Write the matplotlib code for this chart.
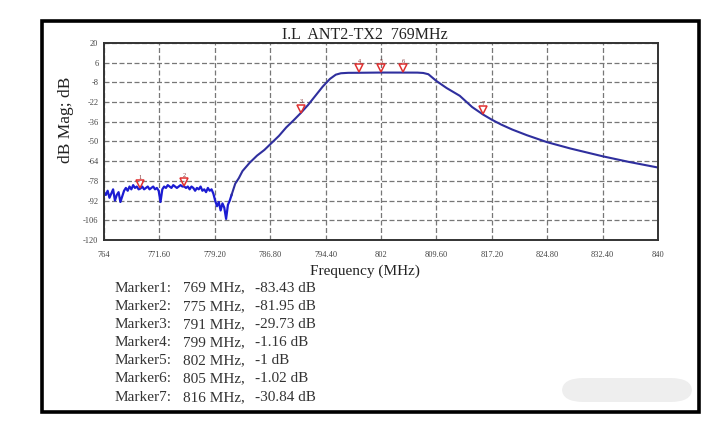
import matplotlib.pyplot as plt
import matplotlib.patches as patches
import matplotlib.transforms as mtransforms
import numpy as np

plt.rcParams['axes.unicode_minus'] = False

# noisy stop-band part
noise_freq = [764.00, 764.25, 764.50, 764.75, 765.00, 765.25, 765.50, 765.75,
              766.00, 766.25, 766.50, 766.75, 767.00, 767.25, 767.50, 767.75,
              768.00, 768.25, 768.50, 768.75, 769.00, 769.25, 769.50, 769.75,
              770.00, 770.25, 770.50, 770.75, 771.00, 771.25, 771.50, 771.75,
              772.00, 772.25, 772.50, 772.75, 773.00, 773.25, 773.50, 773.75,
              774.00, 774.25, 774.50, 774.75, 775.00, 775.25, 775.50, 775.75,
              776.00, 776.25, 776.50, 776.75, 777.00, 777.25, 777.50, 777.75,
              778.00, 778.25, 778.50, 778.75, 779.00, 779.25, 779.50, 779.75,
              780.00, 780.25, 780.50, 780.75, 781.00, 781.25, 781.50]
noise_db = [-86, -88, -85, -90, -87, -84, -92, -88,
            -86, -93, -89, -85, -83, -85, -82, -84,
            -81, -83, -82, -84, -83.4, -82, -84, -83,
            -82, -84, -83, -82, -84, -83, -85, -93,
            -84, -82, -83, -81, -82, -83, -81, -82,
            -83, -82, -81, -82, -81.95, -83, -82, -84,
            -82, -83, -85, -83, -84, -82, -85, -84,
            -86, -83, -85, -84, -87, -92, -96, -93,
            -99, -94, -97, -105, -95, -92, -88]

# rising edge, passband and upper roll-off
main_freq = [781.5, 782.0, 782.5, 783.0, 784.0, 785.0, 786.0, 787.0, 788.0,
             789.0, 790.0, 791.0, 792.0, 793.0, 794.0, 795.0, 795.8, 796.5,
             797.5, 799.0, 802.0, 805.0, 807.0, 807.8, 808.5, 809.6, 811.0,
             812.8, 814.5, 816.0, 817.2, 818.5, 820.0, 822.0, 824.8, 828.0,
             832.4, 836.0, 840.0]
main_db = [-88, -80, -76, -71, -65, -60, -56, -51, -46,
           -40, -35, -29.73, -24, -17.5, -11, -5.5, -2.5, -1.5,
           -1.2, -1.16, -1.0, -1.02, -1.05, -1.3, -2.2, -7, -12,
           -17.5, -25.5, -30.84, -34.5, -38, -41.5, -45.5, -50.5, -55,
           -60.5, -64.5, -68.5]

marker_freq = [769, 775, 791, 799, 802, 805, 816]
marker_db = [-83.43, -81.95, -29.73, -1.16, -1, -1.02, -30.84]

x_ticks = [764, 771.6, 779.2, 786.8, 794.4, 802, 809.6, 817.2, 824.8, 832.4, 840]
x_labels = ['764', '771.60', '779.20', '786.80', '794.40', '802', '809.60',
            '817.20', '824.80', '832.40', '840']
y_ticks = [20, 6, -8, -22, -36, -50, -64, -78, -92, -106, -120]

W, H = 728, 430
serif = ['Liberation Serif', 'DejaVu Serif']


def px(x, y):
    return x / W, 1 - y / H


fig = plt.figure(figsize=(W / 100, H / 100), dpi=100)
fig.patch.set_facecolor('white')

# outer frame
x0, y0 = px(41.5, 412)
x1, y1 = px(699, 20.5)
fig.add_artist(patches.Rectangle((x0, y0), x1 - x0, y1 - y0, transform=fig.transFigure,
                                 fill=False, lw=2.6, ec='black'))

# faint watermark blob in the corner
bx, by = px(562, 402)
fig.add_artist(patches.FancyBboxPatch((bx, by), 130 / W, 24 / H,
                                      boxstyle='round,pad=0,rounding_size=0.03',
                                      transform=fig.transFigure, fc='#eeeeee', ec='none'))

ax = fig.add_axes([104 / W, 1 - 240 / H, 554 / W, 197 / H])
ax.plot(noise_freq, noise_db, color='#1c1cd2', lw=1.6)
ax.plot(main_freq, main_db, color='#2f2f9e', lw=1.5)

# marker triangles with their numbers above
tri = mtransforms.offset_copy(ax.transData, fig=fig, x=0, y=3.2, units='points')
ax.plot(marker_freq, marker_db, linestyle='none', marker='v', ms=5.5, mfc='none',
        mec='#e03030', mew=1.1, transform=tri)
for i, (f, d) in enumerate(zip(marker_freq, marker_db)):
    ax.annotate(str(i + 1), (f, d), xytext=(0, 8), textcoords='offset points',
                ha='center', va='center', fontsize=4.5, color='#803030', family=serif)

ax.set_xlim(764, 840)
ax.set_ylim(-120, 20)
ax.set_xticks(x_ticks)
ax.set_xticklabels(x_labels)
ax.set_yticks(y_ticks)
ax.tick_params(length=0, labelsize=6, colors='#444444')
ax.tick_params(axis='x', pad=8)
ax.tick_params(axis='y', pad=4)
for lab in ax.get_xticklabels() + ax.get_yticklabels():
    lab.set_family(serif)
ax.grid(True, color='#777777', linestyle=(0, (4, 2)), lw=0.9)
for s in ax.spines.values():
    s.set_color('#333333')
    s.set_linewidth(1.4)

tx, ty = px(365, 35)
fig.text(tx, ty, 'I.L  ANT2-TX2  769MHz', ha='center', va='center',
         fontsize=11.5, family=serif, color='#222222')
lx, ly = px(66, 120)
fig.text(lx, ly, 'dB Mag; dB', ha='center', va='center', rotation=90,
         fontsize=12.5, family=serif, color='#222222')
fx, fy = px(365, 271)
fig.text(fx, fy, 'Frequency (MHz)', ha='center', va='center',
         fontsize=11, family=serif, color='#222222')

# marker readout table
for i, (f, d) in enumerate(zip(marker_freq, marker_db)):
    row_y = 288 + i * 18.2
    cx, cy = px(115, row_y)
    fig.text(cx, cy, f'Marker{i + 1}:', ha='left', va='center', fontsize=11,
             family=serif, color='#333333')
    cx, cy = px(183, row_y)
    fig.text(cx, cy, f'{f} MHz,', ha='left', va='center', fontsize=11,
             family=serif, color='#333333')
    cx, cy = px(255, row_y)
    fig.text(cx, cy, f'{d:g} dB', ha='left', va='center', fontsize=11,
             family=serif, color='#333333')

fig.savefig('out.png', dpi=100, facecolor='white')
